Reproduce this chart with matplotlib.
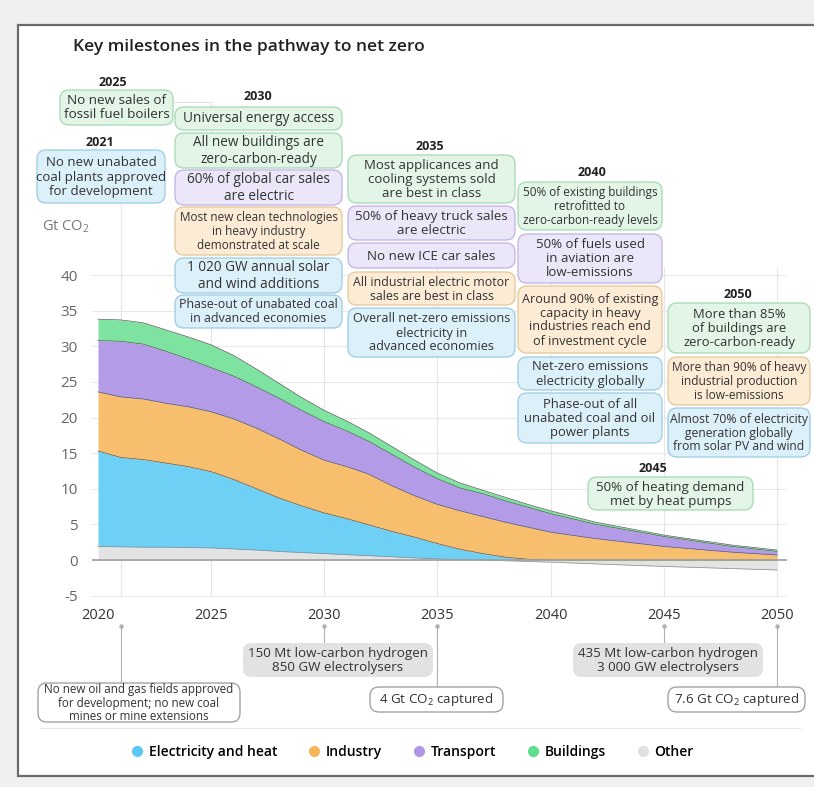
import matplotlib
matplotlib.use("Agg")
from matplotlib import pyplot as plt
from matplotlib.patches import FancyBboxPatch, Rectangle
from matplotlib.lines import Line2D
import numpy as np

plt.rcParams['font.family'] = ['Open Sans', 'DejaVu Sans']
plt.rcParams['mathtext.fontset'] = 'custom'
plt.rcParams['mathtext.rm'] = 'Open Sans'
plt.rcParams['mathtext.it'] = 'Open Sans'
plt.rcParams['axes.unicode_minus'] = False

# emissions by sector, Gt CO2
years = [2020, 2021, 2022, 2023, 2024, 2025, 2026, 2027, 2028, 2029, 2030, 2031, 2032,
         2033, 2034, 2035, 2036, 2037, 2038, 2039, 2040, 2042, 2045, 2048, 2050]
other = [1.9, 1.85, 1.8, 1.8, 1.75, 1.7, 1.55, 1.4, 1.2, 1.05, 0.9, 0.75, 0.6,
         0.45, 0.3, 0.15, 0.05, 0.0, -0.1, -0.2, -0.3, -0.55, -0.9, -1.2, -1.4]
electricity = [13.4, 12.55, 12.3, 11.8, 11.35, 10.7, 9.75, 8.6, 7.5, 6.55, 5.7, 5.05, 4.3,
               3.55, 2.9, 2.15, 1.45, 0.9, 0.4, 0.1, 0.0, 0.0, 0.0, 0.0, 0.0]
industry = [8.3, 8.5, 8.5, 8.4, 8.4, 8.4, 8.5, 8.5, 8.3, 7.8, 7.4, 7.3, 7.1,
            6.4, 5.8, 5.5, 5.4, 5.2, 4.9, 4.5, 3.9, 3.0, 1.9, 1.1, 0.7]
transport = [7.2, 7.8, 7.7, 7.3, 6.7, 6.2, 6.0, 5.8, 5.7, 5.6, 5.4, 5.0, 4.6,
             4.4, 4.0, 3.6, 3.2, 3.2, 3.0, 2.8, 2.6, 2.0, 1.4, 0.8, 0.5]
buildings = [3.0, 3.0, 3.0, 3.0, 3.1, 3.2, 2.9, 2.5, 2.1, 1.8, 1.6, 1.4, 1.2,
             1.1, 1.0, 0.8, 0.7, 0.5, 0.5, 0.4, 0.4, 0.3, 0.2, 0.2, 0.2]

sector_names = ['Electricity and heat', 'Industry', 'Transport', 'Buildings', 'Other']
sector_colors = ['#6fd0f6', '#f7be6e', '#b39be8', '#7ee3a0', '#e3e3e3']
legend_colors = ['#5bc8f5', '#f5b558', '#b196e8', '#5fdc8d', '#e0e0e0']

x_ticks = [2020, 2025, 2030, 2035, 2040, 2045, 2050]
milestone_years = [2021, 2025, 2030, 2035, 2040, 2045, 2050]

W, H = 814, 787
fig = plt.figure(figsize=(W / 100, H / 100), dpi=100, facecolor='#f0f0f0')

# overlay in pixel coordinates for the milestone boxes
ov = fig.add_axes([0, 0, 1, 1], zorder=3)
ov.set_xlim(0, W)
ov.set_ylim(H, 0)
ov.axis('off')
ov.patch.set_alpha(0)

bg = fig.add_axes([0, 0, 1, 1], zorder=0)
bg.set_xlim(0, W)
bg.set_ylim(H, 0)
bg.axis('off')
bg.add_patch(Rectangle((18, 25), 830, 751, fc='white', ec='#6b6b6b', lw=1.6))

# data axes
ax_l, ax_r, ax_t, ax_b = 92, 787, 267.9, 602.75
ax = fig.add_axes([ax_l / W, 1 - ax_b / H, (ax_r - ax_l) / W, (ax_b - ax_t) / H], zorder=1)
ax.patch.set_alpha(0)
ppy = (777 - 98) / 30.0
ax.set_xlim(2020 - (98 - ax_l) / ppy, 2050 + (ax_r - 777) / ppy)
ax.set_ylim(-6, 41)
for s in ax.spines.values():
    s.set_visible(False)
ax.set_xticks([])
ax.set_yticks(range(-5, 41, 5))
ax.tick_params(axis='y', length=0, pad=10, labelsize=11, labelcolor='#666666')
ax.grid(axis='y', color='#e9e9e9', lw=0.8, zorder=0)


def px2v(y):
    return (560 - y) / 7.15


# vertical milestone lines
for yr in milestone_years:
    top = px2v(203) if yr == 2021 else 41
    ax.plot([yr, yr], [top, -5], color='#e6e6e6', lw=0.8, zorder=0, clip_on=False)
ax.plot([2020 - (98 - 173) / ppy, 2025, 2025], [px2v(100), px2v(100), 41],
        color='#e2e2e2', lw=0.8, clip_on=False, zorder=0)

# stacked areas
yrs = np.array(years)
oth = np.array(other)
base = np.maximum(oth, 0)
ax.fill_between(yrs, 0, oth, color=sector_colors[4], lw=0, zorder=2)
ax.plot(yrs, oth, color='#8a8a8a', lw=0.5, zorder=3)
layers = [electricity, industry, transport, buildings]
lower = base.copy()
for vals, col in zip(layers, sector_colors[:4]):
    upper = lower + np.array(vals)
    ax.fill_between(yrs, lower, upper, color=col, lw=0, zorder=2)
    ax.plot(yrs, upper, color='#5a5a5a', lw=0.5, zorder=3)
    lower = upper
ax.axhline(0, color='#a0a0a0', lw=1.2, zorder=4)

# x labels
for yr in x_ticks:
    ax.text(yr, -7.8, str(yr), ha='center', va='center', fontsize=10.5, color='#333333',
            clip_on=False)

# title and unit
ov.text(73, 47, 'Key milestones in the pathway to net zero', fontsize=12.5,
        fontweight='semibold', color='#222222', va='center', ha='left')
ov.text(42, 227, 'Gt CO$_2$', fontsize=10.5, color='#777777', va='center', ha='left')

styles = {
    'g': ('#e2f5e7', '#a5d8b3'),
    'b': ('#dcf0fa', '#9ccbe2'),
    'p': ('#ece6f9', '#c0b2e5'),
    'o': ('#fcecd5', '#e5c698'),
    'k': ('#e2e2e2', 'none'),
    'w': ('#ffffff', '#9a9a9a'),
}


def box(x0, y0, x1, y1, text, kind, fs=9.6):
    fc, ec = styles[kind]
    ov.add_patch(FancyBboxPatch((x0, y0), x1 - x0, y1 - y0,
                                boxstyle='round,pad=0,rounding_size=9',
                                fc=fc, ec=ec, lw=0.9))
    ov.text((x0 + x1) / 2, (y0 + y1) / 2 + 0.5, text, ha='center', va='center',
            fontsize=fs, color='#333333', linespacing=1.1)


def year_label(x, y, t):
    ov.text(x, y, t, ha='center', va='center', fontsize=9, fontweight='bold', color='#222222')


year_label(113, 82, '2025')
box(60, 90, 173, 125, 'No new sales of\nfossil fuel boilers', 'g', 9.7)
year_label(100, 142, '2021')
box(37, 150, 165, 203, 'No new unabated\ncoal plants approved\nfor development', 'b', 9.5)

year_label(258, 97, '2030')
box(175, 107, 342, 130, 'Universal energy access', 'g', 9.8)
box(175, 133, 342, 168, 'All new buildings are\nzero-carbon-ready', 'g', 9.8)
box(175, 170, 342, 205, '60% of global car sales\nare electric', 'p', 9.8)
box(175, 207, 342, 255, 'Most new clean technologies\nin heavy industry\ndemonstrated at scale', 'o', 8.5)
box(175, 258, 342, 293, '1 020 GW annual solar\nand wind additions', 'b', 9.8)
box(175, 295, 342, 328, 'Phase-out of unabated coal\nin advanced economies', 'b', 8.9)

year_label(430, 147, '2035')
box(348, 155, 515, 203, 'Most applicances and\ncooling systems sold\nare best in class', 'g', 9.5)
box(348, 206, 515, 240, '50% of heavy truck sales\nare electric', 'p', 9.6)
box(348, 243, 515, 268, 'No new ICE car sales', 'p', 9.6)
box(348, 272, 515, 305, 'All industrial electric motor\nsales are best in class', 'o', 8.9)
box(348, 308, 515, 357, 'Overall net-zero emissions\nelectricity in\nadvanced economies', 'b', 9.1)

year_label(592, 173, '2040')
box(518, 182, 662, 230, '50% of existing buildings\nretrofitted to\nzero-carbon-ready levels', 'g', 8.5)
box(518, 234, 662, 283, '50% of fuels used\nin aviation are\nlow-emissions', 'p', 9.5)
box(518, 286, 662, 353, 'Around 90% of existing\ncapacity in heavy\nindustries reach end\nof investment cycle', 'o', 9.1)
box(518, 357, 662, 390, 'Net-zero emissions\nelectricity globally', 'b', 9.4)
box(518, 393, 662, 443, 'Phase-out of all\nunabated coal and oil\npower plants', 'b', 9.4)

year_label(738, 295, '2050')
box(668, 303, 810, 353, 'More than 85%\nof buildings are\nzero-carbon-ready', 'g', 9.4)
box(668, 357, 810, 405, 'More than 90% of heavy\nindustrial production\nis low-emissions', 'o', 8.6)
box(668, 408, 810, 457, 'Almost 70% of electricity\ngeneration globally\nfrom solar PV and wind', 'b', 8.7)

year_label(653, 468, '2045')
box(588, 477, 753, 510, '50% of heating demand\nmet by heat pumps', 'g', 9.6)

# bottom milestones
bottom = [
    (2021, 683, (38, 683, 240, 722), 'No new oil and gas fields approved\nfor development; no new coal\nmines or mine extensions', 'w', 8.4),
    (2030, 643, (243, 643, 433, 677), '150 Mt low-carbon hydrogen\n850 GW electrolysers', 'k', 9.6),
    (2035, 687, (370, 687, 503, 712), '4 Gt CO$_2$ captured', 'w', 9.6),
    (2045, 643, (573, 643, 763, 677), '435 Mt low-carbon hydrogen\n3 000 GW electrolysers', 'k', 9.6),
    (2050, 687, (668, 687, 805, 712), '7.6 Gt CO$_2$ captured', 'w', 9.6),
]
for yr, ytop, (x0, y0, x1, y1), txt, kind, fs in bottom:
    ax.plot([yr, yr], [px2v(626), px2v(ytop)], color='#b0b0b0', lw=0.8, clip_on=False)
    ax.plot([yr], [px2v(626)], 'o', ms=2.2, color='#b0b0b0', clip_on=False)
    box(x0, y0, x1, y1, txt, kind, fs)

ov.plot([40, 800], [728, 728], color='#e6e6e6', lw=0.8)

handles = [Line2D([0], [0], marker='o', ls='', ms=7, mfc=c, mec=c) for c in legend_colors]
fig.legend(handles, sector_names, loc='center', bbox_to_anchor=(412 / W, 1 - 752 / H),
           ncol=5, frameon=False, handletextpad=0.3, columnspacing=2.2, handlelength=1.0,
           prop={'size': 10, 'weight': 'semibold'})

fig.savefig('out.png', dpi=100, facecolor=fig.get_facecolor())
